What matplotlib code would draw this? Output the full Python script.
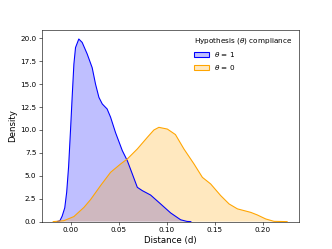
import matplotlib
matplotlib.use("Agg")
import matplotlib.pyplot as plt
from matplotlib.patches import Patch

# Density curve readings (theta = 1)
d1_x = [-0.014, -0.011, -0.0087, -0.006, -0.004, -0.002, 0.0, 0.0017, 0.0035, 0.0052,
        0.0086, 0.0121, 0.0173, 0.0225, 0.026, 0.0295, 0.033, 0.0364, 0.038, 0.0416,
        0.0468, 0.0538, 0.059, 0.0642, 0.0694, 0.0746, 0.0832, 0.0936, 0.104, 0.1144,
        0.121, 0.125]
d1_y = [0.0, 0.1, 0.6, 1.5, 3.2, 6.0, 10.0, 13.6, 17.2, 19.0,
        19.93, 19.56, 18.3, 16.8, 15.0, 13.56, 12.84, 12.47, 12.3, 11.4,
        9.7, 7.75, 6.65, 5.2, 3.74, 3.38, 2.9, 1.93, 0.95, 0.2,
        0.02, 0.0]

# Density curve readings (theta = 0)
d0_x = [-0.018, -0.007, 0.0035, 0.014, 0.0208, 0.0312, 0.0416, 0.052, 0.059, 0.0694,
        0.0798, 0.0866, 0.0918, 0.1006, 0.109, 0.1178, 0.1283, 0.137, 0.1456, 0.156,
        0.1647, 0.1734, 0.1872, 0.194, 0.2028, 0.2114, 0.225]
d0_y = [0.0, 0.1, 0.55, 1.56, 2.4, 3.93, 5.38, 6.29, 6.84, 7.93,
        9.2, 10.0, 10.29, 10.1, 9.5, 7.93, 6.29, 4.83, 4.11, 2.84,
        1.93, 1.39, 1.01, 0.73, 0.29, 0.03, 0.0]

labels = [r"$\theta$ = 1", r"$\theta$ = 0"]
colors = ["blue", "orange"]
xticks = [0.0, 0.05, 0.10, 0.15, 0.20]
xtick_labels = ["0.00", "0.05", "0.10", "0.15", "0.20"]
yticks = [0, 2.5, 5, 7.5, 10, 12.5, 15, 17.5, 20]
ytick_labels = ["0.0", "2.5", "5.0", "7.5", "10.0", "12.5", "15.0", "17.5", "20.0"]

fig, ax = plt.subplots(figsize=(6.4, 4.8), dpi=51.875)

for xs, ys, c in [(d1_x, d1_y, colors[0]), (d0_x, d0_y, colors[1])]:
    ax.fill_between(xs, ys, 0, facecolor=c, alpha=0.25, linewidth=0)
    ax.plot(xs, ys, color=c, linewidth=1.5, solid_joinstyle="round")

ax.set_ylim(bottom=0)
ax.set_xticks(xticks)
ax.set_xticklabels(xtick_labels)
ax.set_yticks(yticks)
ax.set_yticklabels(ytick_labels)
ax.set_xlabel("Distance (d)", fontsize=12)
ax.set_ylabel("Density", fontsize=12)

handles = [Patch(facecolor=matplotlib.colors.to_rgba(c, 0.25), edgecolor=c, linewidth=1.5)
           for c in colors]
ax.legend(handles, labels, title=r"Hypothesis ($\theta$) compliance",
          loc="upper right", frameon=False, alignment="left")

fig.savefig("out.png", dpi=51.875)
